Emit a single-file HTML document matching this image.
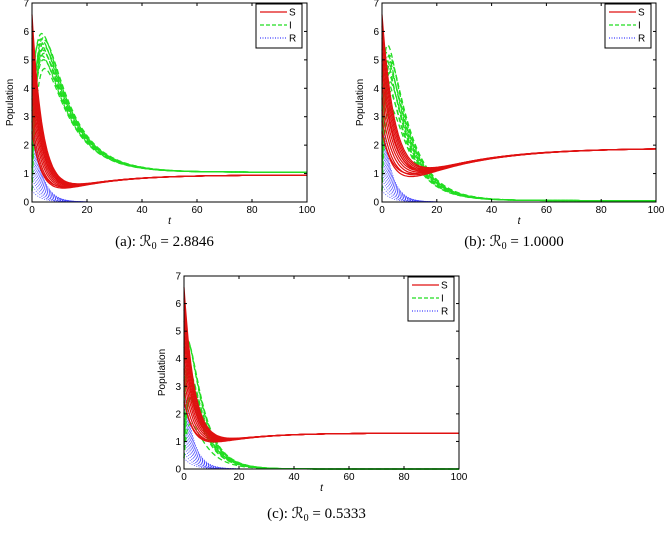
<!DOCTYPE html>
<html><head><meta charset="utf-8"><style>
html,body{margin:0;padding:0;background:#fff;width:670px;height:556px;overflow:hidden}
svg{display:block}
.cap{font-family:"Liberation Serif",serif;font-size:15px}
.tk{font-family:"Liberation Sans",sans-serif;font-size:10px}
</style></head><body>
<svg id="s" width="670" height="556" xmlns="http://www.w3.org/2000/svg"></svg>
<script>
var svg=document.getElementById('s');var out='';
function panel(x0,y0,w,h,cfg,cap,capY){
  var X=function(t){return x0+t/100*w},Y=function(v){return y0+h-v/7*h};
  var c='';
  function path(f,col,sw,dash){var d='';for(var t=0;t<=100;t+=0.5){d+=(t?'L':'M')+X(t).toFixed(1)+' '+Y(Math.max(0,Math.min(7,f(t)))).toFixed(1)}
    c+='<path d="'+d+'" fill="none" stroke="'+col+'" stroke-width="'+sw+'"'+(dash?' stroke-dasharray="'+dash+'"':'')+'/>';}
  for(var k=0;k<14;k++){var r=k/13;
    (function(r){var R0=0.4+2.8*r;path(function(t){return R0*Math.exp(-t/3.2)},'#4040ff',0.8,'1 1.5');})(r);}
  for(var k=0;k<12;k++){var r=k/11;
    (function(r){var I0=0.4+4.4*((r*7)%1),B=cfg.B[0]+(cfg.B[1]-cfg.B[0])*r;
      path(function(t){return cfg.Ie+(I0-cfg.Ie)*Math.exp(-t/cfg.Td)+B*(1-Math.exp(-t/cfg.Tr))*Math.exp(-t/cfg.Ti)},'#22dd22',1.3,'5 3');})(r);}
  for(var k=0;k<12;k++){var r=k/11;
    (function(r){var S0=2.5+4.5*((r*5)%1);
      path(function(t){return cfg.Se+(S0-cfg.Se)*Math.exp(-t/cfg.Tsd)-cfg.A*(1+0.1*r)*(1-Math.exp(-t/cfg.Tsd))*Math.exp(-t/cfg.Ts)},'#e01010',1.2);})(r);}
  c+='<rect x="'+x0+'" y="'+y0+'" width="'+w+'" height="'+h+'" fill="none" stroke="#000" stroke-width="1"/>';
  for(var v=0;v<=7;v++){var yy=Y(v);c+='<line x1="'+x0+'" y1="'+yy+'" x2="'+(x0+3)+'" y2="'+yy+'" stroke="#000"/><line x1="'+(x0+w)+'" y1="'+yy+'" x2="'+(x0+w-3)+'" y2="'+yy+'" stroke="#000"/>';
    c+='<text class="tk" x="'+(x0-3)+'" y="'+(yy+3.5)+'" text-anchor="end">'+v+'</text>';}
  for(var t=0;t<=100;t+=20){var xx=X(t);c+='<line x1="'+xx+'" y1="'+(y0+h)+'" x2="'+xx+'" y2="'+(y0+h-3)+'" stroke="#000"/><line x1="'+xx+'" y1="'+y0+'" x2="'+xx+'" y2="'+(y0+3)+'" stroke="#000"/>';
    c+='<text class="tk" x="'+xx+'" y="'+(y0+h+11)+'" text-anchor="middle">'+t+'</text>';}
  c+='<text class="tk" x="'+(x0+w/2)+'" y="'+(y0+h+22)+'" text-anchor="middle" font-style="italic" font-size="9">t</text>';
  c+='<text class="tk" transform="translate('+(x0-19)+','+(y0+h/2)+') rotate(-90)" text-anchor="middle" font-size="9.5">Population</text>';
  var lx=x0+w-51,ly=y0+1;
  c+='<rect x="'+lx+'" y="'+ly+'" width="46" height="44" fill="#fff" stroke="#000" stroke-width="1"/>';
  var L=[['S','#e01010',''],['I','#22dd22','4 2'],['R','#4040ff','1 1.5']];
  for(var i=0;i<3;i++){var yy=ly+8+i*13;c+='<line x1="'+(lx+4)+'" y1="'+yy+'" x2="'+(lx+31)+'" y2="'+yy+'" stroke="'+L[i][1]+'" stroke-width="1.2"'+(L[i][2]?' stroke-dasharray="'+L[i][2]+'"':'')+'/>';
    c+='<text class="tk" x="'+(lx+33)+'" y="'+(yy+3.5)+'">'+L[i][0]+'</text>';}
  c+='<text class="cap" x="'+(x0+w/2-5)+'" y="'+capY+'" text-anchor="middle">'+cap+'</text>';
  out+=c;
}
panel(32,3,275,199,{Se:0.95,A:1.0,Ts:18,Tsd:4,Ie:1.05,B:[7.5,9.5],Ti:10,Tr:3,Td:2},'(a): &#x211B;<tspan font-size="10" dy="3">0</tspan><tspan dy="-3"> = 2.8846</tspan>',246);
panel(382,3,274,199,{Se:1.9,A:1.7,Ts:25,Tsd:5,Ie:0.05,B:[6,9],Ti:8,Tr:2,Td:2},'(b): &#x211B;<tspan font-size="10" dy="3">0</tspan><tspan dy="-3"> = 1.0000</tspan>',246);
panel(184,276,275,193,{Se:1.3,A:0.8,Ts:15,Tsd:4,Ie:0.0,B:[3,5],Ti:6,Tr:2,Td:5},'(c): &#x211B;<tspan font-size="10" dy="3">0</tspan><tspan dy="-3"> = 0.5333</tspan>',518);
svg.innerHTML=out;
</script>
</body></html>
